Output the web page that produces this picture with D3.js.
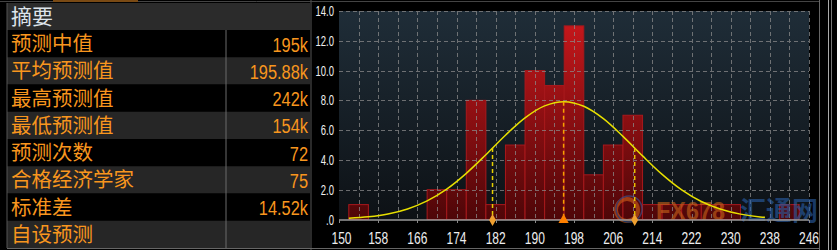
<!DOCTYPE html>
<html><head><meta charset="utf-8">
<script src="https://cdn.jsdelivr.net/npm/d3@7"></script>
<style>
html,body{margin:0;padding:0;background:#000;overflow:hidden}
svg{display:block}
</style></head><body>
<svg id="c" width="837" height="250"></svg>
<script>
// ---- data ----
const summaryTitle = "摘要";
const summaryLabels = ["预测中值","平均预测值","最高预测值","最低预测值","预测次数","合格经济学家","标准差","自设预测"];
const summaryValues = ["195k","195.88k","242k","154k","72","75","14.52k",""];
const binStarts = [152,156,160,164,168,172,176,180,184,188,192,196,200,204,208,212,216,220,224,228,232,236,240];
const binCounts = [1,0,0,0,2,2,8,1,5,10,9,13,3,5,7,1,1,1,1,1,0,0,1];
const binWidth = 4;
const xTicks = [150,158,166,174,182,190,198,206,214,222,230,238,246];
const xGrid = [150,154,158,162,166,170,174,178,182,186,190,194,198,202,206,210,214,218,222,226,230,234,238,242,246];
const yTicks = [0,2,4,6,8,10,12,14];
const yTickLabels = [".0","2.0","4.0","6.0","8.0","10.0","12.0","14.0"];
const curveX = [152,156,160,164,168,172,176,180,184,188,192,196,200,204,208,212,216,220,224,228,232,236,237];
const curveY = [0.08,0.18,0.37,0.71,1.25,2.04,3.10,4.35,5.66,6.83,7.63,7.91,7.60,6.77,5.58,4.27,3.03,1.99,1.21,0.69,0.36,0.17,0.15];
const markerX = [181.36,195.88,210.40];
const markerTop = [4.80,7.91,4.80];

// ---- drawing ----
const svg = d3.select("#c");
const defs = svg.append("defs");
const bg = defs.append("linearGradient").attr("id","bg").attr("x1",0).attr("y1",0).attr("x2",0).attr("y2",1);
bg.append("stop").attr("offset","0%").attr("stop-color","#1f2d38");
bg.append("stop").attr("offset","100%").attr("stop-color","#0d1115");
const bf = defs.append("linearGradient").attr("id","bf").attr("gradientUnits","userSpaceOnUse")
  .attr("x1",0).attr("y1",11).attr("x2",0).attr("y2",220);
bf.append("stop").attr("offset","0%").attr("stop-color","#cc181c");
bf.append("stop").attr("offset","100%").attr("stop-color","#4e0608");

const sans = "'Liberation Sans',Arial,sans-serif";
const cjk = "'Noto Sans CJK SC','Noto Sans CJK JP',sans-serif";

// narrow text helper (condensed look via horizontal scale)
function ntext(parent, tx, ty, s, str, size, color, anchor){
  return parent.append("text").attr("transform",`translate(${tx},${ty}) scale(${s},1)`)
    .attr("text-anchor",anchor).attr("fill",color)
    .style("font-family",sans).style("font-size",size+"px").text(str);
}

// left table
const tx0 = 7, tx1 = 310, sep = 226, headTop = 3, rowTop = 30, rowH = 27.25;
svg.append("rect").attr("x",tx0).attr("y",headTop).attr("width",tx1-tx0).attr("height",rowTop-headTop).attr("fill","#2b2b2b");
svg.append("text").attr("x",11).attr("y",23.5).attr("fill","#dde4ea")
  .style("font-family",cjk).style("font-size","21px").text(summaryTitle);
const rows = svg.append("g");
summaryLabels.forEach((lab,i)=>{
  const y0 = rowTop + i*rowH;
  rows.append("rect").attr("x",tx0).attr("y",y0).attr("width",tx1-tx0).attr("height",rowH)
    .attr("fill", i%2===1 ? "#262626" : "#000");
});
summaryLabels.forEach((lab,i)=>{
  const y0 = rowTop + i*rowH;
  rows.append("text").attr("x",11).attr("y",y0+rowH/2+7.5).attr("fill","#f8961e")
    .style("font-family",cjk).style("font-size","20.5px").text(lab);
  if (summaryValues[i]) ntext(rows, 308, y0+rowH/2+8, 0.78, summaryValues[i], 21, "#f8961e", "end");
});
svg.append("line").attr("x1",sep).attr("x2",sep).attr("y1",rowTop).attr("y2",248).attr("stroke","#6a6a6a");
svg.append("line").attr("x1",tx0).attr("x2",tx0).attr("y1",headTop).attr("y2",248).attr("stroke","#555");
svg.append("line").attr("x1",tx1+1).attr("x2",tx1+1).attr("y1",0).attr("y2",250).attr("stroke","#555");
svg.append("line").attr("x1",tx0).attr("x2",819).attr("y1",248.5).attr("y2",248.5).attr("stroke","#666");
svg.append("line").attr("x1",0).attr("x2",819).attr("y1",1.5).attr("y2",1.5).attr("stroke","#444");
svg.append("rect").attr("x",53).attr("y",0).attr("width",85).attr("height",2).attr("fill","#7a4a14");
// right decorations
svg.append("line").attr("x1",819.5).attr("x2",819.5).attr("y1",0).attr("y2",250).attr("stroke","#666");
svg.append("line").attr("x1",828.5).attr("x2",828.5).attr("y1",0).attr("y2",250).attr("stroke","#aaa");
svg.append("line").attr("x1",831.5).attr("x2",831.5).attr("y1",0).attr("y2",250).attr("stroke","#777");

// chart
const x = d3.scaleLinear().domain([150,246]).range([339,809]);
const y = d3.scaleLinear().domain([0,14]).range([219.5,11]);
svg.append("rect").attr("x",x(150)).attr("y",y(14)).attr("width",x(246)-x(150)).attr("height",y(0)-y(14)).attr("fill","url(#bg)");

const data = binStarts.map((b,i)=>({b, c:binCounts[i]})).filter(d=>d.c>0);
svg.append("g").selectAll("rect").data(data).join("rect")
  .attr("x",d=>x(d.b)).attr("width",d=>x(d.b+binWidth)-x(d.b))
  .attr("y",d=>y(d.c)).attr("height",d=>y(0)-y(d.c))
  .attr("fill","url(#bf)").attr("stroke","#a8181c").attr("stroke-width",1);

// grid
const grid = svg.append("g").attr("stroke","#8a8a8a").attr("stroke-dasharray","4,3").attr("opacity",0.75);
grid.selectAll("line.h").data(yTicks.filter(v=>v>0)).join("line").attr("class","h")
  .attr("x1",x(150)).attr("x2",x(246)).attr("y1",d=>Math.round(y(d))+0.5).attr("y2",d=>Math.round(y(d))+0.5);
grid.selectAll("line.v").data(xGrid.filter(v=>v>150)).join("line").attr("class","v")
  .attr("y1",y(14)).attr("y2",y(0)).attr("x1",d=>Math.round(x(d))+0.5).attr("x2",d=>Math.round(x(d))+0.5);

// watermark
const wm = svg.append("g").attr("opacity",0.6);
wm.append("circle").attr("cx",627).attr("cy",210).attr("r",11).attr("fill","none").attr("stroke","#d0601a").attr("stroke-width",4);
wm.append("circle").attr("cx",629).attr("cy",209).attr("r",13).attr("fill","none").attr("stroke","#3a5a9a").attr("stroke-width",1.5);
ntext(wm, 656, 220, 0.9, "FX678", 26, "#c8641a", "start").style("font-weight","bold");
wm.append("text").attr("x",740).attr("y",220).attr("fill","#2a5fa8").style("font-family",cjk)
  .style("font-weight","bold").style("font-size","26px").text("汇通网");

// axis line
svg.append("line").attr("x1",x(150)).attr("x2",x(246)).attr("y1",220).attr("y2",220).attr("stroke","#9a9a9a").attr("stroke-width",1.5);
svg.append("g").selectAll("line").data(xTicks).join("line")
  .attr("x1",d=>Math.round(x(d))+0.5).attr("x2",d=>Math.round(x(d))+0.5).attr("y1",220).attr("y2",223).attr("stroke","#888");

// normal curve
const line = d3.line().x((d,i)=>x(curveX[i])).y(d=>y(d)).curve(d3.curveCatmullRom);
svg.append("path").datum(curveY).attr("d",line).attr("fill","none").attr("stroke","#e8e000").attr("stroke-width",1.5);

// marker lines
const mColors = ["#e6d000","#f5a000","#e8c000"];
markerX.forEach((m,i)=>{
  svg.append("line").attr("x1",x(m)).attr("x2",x(m)).attr("y1",y(markerTop[i])).attr("y2",y(0))
    .attr("stroke",mColors[i]).attr("stroke-width",1.5).attr("stroke-dasharray","4,3");
});
svg.append("path").attr("d",d3.symbol(d3.symbolDiamond,40)()).attr("transform",`translate(${x(markerX[0])},220)`).attr("fill","#f0a030");
svg.append("path").attr("d",d3.symbol(d3.symbolDiamond,40)()).attr("transform",`translate(${x(markerX[2])},220)`).attr("fill","#f0a030");
svg.append("path").attr("d",d3.symbol(d3.symbolTriangle,45)()).attr("transform",`translate(${x(markerX[1])},220)`).attr("fill","#ff8000");

// y labels
const yl = svg.append("g");
yTicks.forEach((v,i)=>ntext(yl, 334, y(v)+5, 0.68, yTickLabels[i], 14, "#eeeeee", "end"));
// x labels
const xl = svg.append("g");
xTicks.forEach(v=>ntext(xl, x(v)+(v===150?2.5:0), 243.5, 0.75, String(v), 16, "#eeeeee", "middle"));
</script>
</body></html>
